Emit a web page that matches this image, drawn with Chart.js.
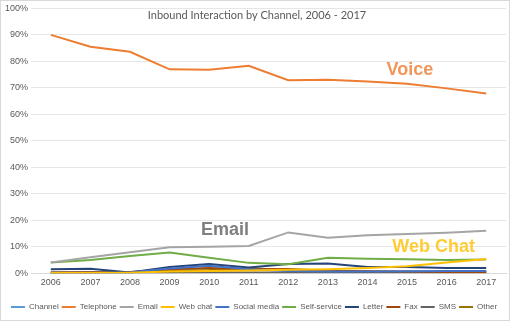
<!DOCTYPE html>
<html>
<head>
<meta charset="utf-8">
<script src="https://cdn.jsdelivr.net/npm/chart.js@4/dist/chart.umd.min.js"></script>
<style>
  html, body { margin: 0; padding: 0; background: #fff; }
  #wrap { width: 510px; height: 321px; }
</style>
</head>
<body>
<div id="wrap"><canvas id="grafico"></canvas></div>
<script>
const anos = ['2006', '2007', '2008', '2009', '2010', '2011', '2012', '2013', '2014', '2015', '2016', '2017'];

const channel     = [];
const telephone   = [90, 85.5, 83.6, 77.0, 76.8, 78.3, 72.9, 73.1, 72.4, 71.5, 69.8, 67.9];
const email       = [4.0, 6.0, 7.9, 9.8, 10.0, 10.3, 15.4, 13.4, 14.3, 14.8, 15.3, 16.0];
const webChat     = [0.1, 0.1, 0.2, 0.6, 0.8, 1.0, 1.3, 1.5, 2.0, 2.6, 4.0, 5.4];
const socialMedia = [0.2, 0.2, 0.3, 1.8, 2.8, 1.5, 0.8, 0.6, 0.6, 0.7, 0.8, 0.8];
const selfService = [4.0, 5.0, 6.5, 7.8, 5.8, 3.9, 3.4, 5.8, 5.5, 5.3, 5.0, 5.2];
const letter      = [1.5, 1.7, 0.3, 2.3, 3.5, 2.2, 3.5, 3.7, 2.3, 2.3, 2.0, 2.0];
const fax         = [0.3, 0.4, 0.5, 1.5, 2.0, 1.5, 1.6, 0.9, 0.7, 0.6, 0.5, 0.5];
const sms         = [0.0, 0.0, 0.1, 0.2, 0.3, 0.3, 0.3, 0.3, 0.3, 0.3, 0.3, 0.3];
const other       = [0.3, 0.4, 0.5, 1.0, 1.2, 2.0, 1.0, 0.8, 0.6, 0.5, 0.4, 0.4];

const nomes = ['Channel', 'Telephone', 'Email', 'Web chat', 'Social media', 'Self-service', 'Letter', 'Fax', 'SMS', 'Other'];
const series = [channel, telephone, email, webChat, socialMedia, selfService, letter, fax, sms, other];
const cores = ['#5B9BD5', '#ED7D31', '#A5A5A5', '#FFC000', '#4472C4', '#70AD47', '#264478', '#9E480E', '#636363', '#997300'];

// rótulos de destaque: [texto, índice do ano, valor, cor]
const destaques = [
    ['Voice', 9.07, 76.6, '#F0965A'],
    ['Email', 4.4, 16.4, '#7F7F7F'],
    ['Web Chat', 9.67, 9.8, '#FFCC33']
];
const titulo = 'Inbound Interaction by Channel, 2006 - 2017';

const fonte = "'Liberation Sans', Arial, sans-serif";

const extras = {
    id: 'extras',
    afterDraw(chart) {
        const ctx = chart.ctx;
        const x = chart.scales.x;
        const y = chart.scales.y;
        ctx.save();
        // moldura
        ctx.strokeStyle = '#D9D9D9';
        ctx.lineWidth = 1;
        ctx.strokeRect(0.5, 0.5, chart.width - 1, chart.height - 1);
        // título
        ctx.fillStyle = '#595959';
        ctx.font = "11px Lato, sans-serif";
        ctx.textAlign = 'center';
        ctx.textBaseline = 'middle';
        ctx.fillText(titulo, 257, 15);
        // destaques
        ctx.font = 'bold 18px ' + fonte;
        destaques.forEach(d => {
            ctx.fillStyle = d[3];
            ctx.fillText(d[0], x.getPixelForValue(d[1]), y.getPixelForValue(d[2]));
        });
        ctx.restore();
    }
};

new Chart(document.getElementById('grafico'), {
    type: 'line',
    data: {
        labels: anos,
        datasets: series.map((s, i) => ({
            label: nomes[i],
            data: s,
            borderColor: cores[i],
            backgroundColor: cores[i],
            borderWidth: 2,
            pointRadius: 0,
            tension: 0,
            fill: false
        }))
    },
    options: {
        responsive: true,
        maintainAspectRatio: false,
        animation: false,
        layout: { padding: { left: 2, right: 4, top: 2, bottom: 0 } },
        plugins: {
            legend: {
                position: 'bottom',
                labels: {
                    usePointStyle: true,
                    pointStyle: 'line',
                    pointStyleWidth: 14,
                    boxHeight: 2,
                    padding: 3,
                    color: '#595959',
                    font: { family: fonte, size: 8 }
                }
            },
            tooltip: { enabled: false }
        },
        scales: {
            x: {
                offset: true,
                grid: { display: false, drawTicks: false },
                border: { color: '#D9D9D9' },
                ticks: { color: '#595959', font: { family: fonte, size: 9 }, padding: 4 },
                afterFit: eixo => { eixo.height += 8; }
            },
            y: {
                min: 0,
                max: 100,
                ticks: {
                    stepSize: 10,
                    color: '#595959',
                    font: { family: fonte, size: 9 },
                    callback: v => v + '%'
                },
                grid: { color: '#E6E6E6', drawTicks: false },
                border: { display: false }
            }
        }
    },
    plugins: [extras]
});
</script>
</body>
</html>
